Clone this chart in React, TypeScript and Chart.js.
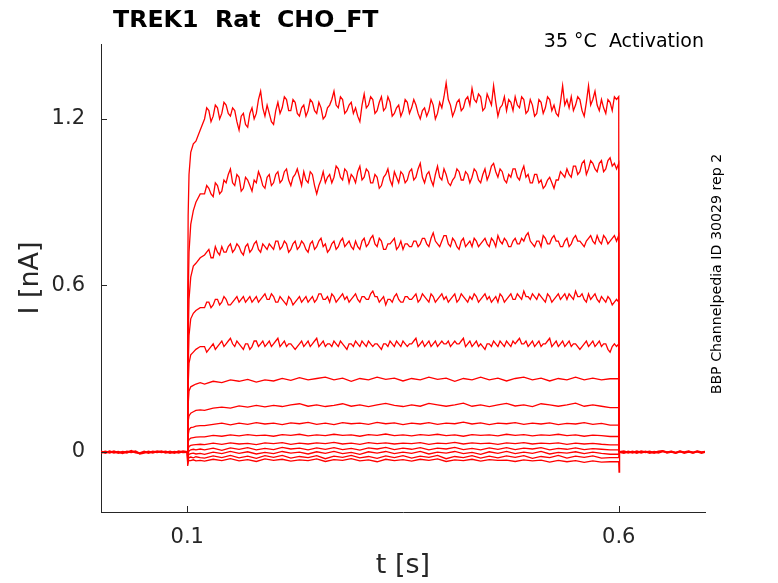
import React, { useEffect, useRef } from 'react';
import { Chart, registerables } from 'chart.js';

Chart.register(...registerables);

const title = 'TREK1  Rat  CHO_FT';
const subtitle = '35 °C  Activation';
const sideNote = 'BBP Channelpedia ID 30029 rep 2';
const xLabel = 't [s]';
const yLabel = 'I [nA]';

const xTicks = [0.1, 0.6];
const yTicks = [0, 0.6, 1.2];

// sample times in seconds
const preTimes = Array.from({ length: 21 }, (_, i) => +(i * 0.005).toFixed(4));
const onsetTimes = [0.1, 0.1005, 0.101, 0.102, 0.104, 0.107, 0.11, 0.115];
const fineTimes = Array.from({ length: 96 }, (_, i) => +(0.12 + i * 0.005).toFixed(4));
const midTimes = Array.from({ length: 96 }, (_, i) => +(0.1225 + i * 0.005).toFixed(4));
const coarseTimes = Array.from({ length: 48 }, (_, i) => +(0.12 + i * 0.01).toFixed(4));
const endTimes = [0.6, 0.6004, 0.601];
const postTimes = Array.from({ length: 21 }, (_, i) => +(0.601 + i * 0.005).toFixed(4));

// holding current before / after the step (nA)
const preA = [0.002, -0.003, 0.003, -0.002, 0.001, -0.004, 0.002, -0.001, 0.003, -0.006, -0.003, 0.002, -0.002, 0.003, -0.001, 0.002, -0.003, 0.001, -0.002, 0.003, 0.0];
const preB = [-0.003, 0.002, -0.002, 0.003, -0.003, 0.001, -0.002, 0.004, -0.002, -0.004, 0.002, -0.003, 0.002, -0.001, 0.003, -0.002, 0.002, -0.003, 0.003, -0.001, 0.0];
const postA = [0.0, 0.003, -0.002, 0.002, -0.003, 0.003, -0.001, 0.002, -0.003, 0.002, 0.004, -0.002, 0.001, -0.003, 0.002, -0.001, 0.003, -0.002, 0.002, -0.003, 0.001];
const postB = [0.0, -0.003, 0.002, -0.002, 0.003, -0.002, 0.002, -0.003, 0.001, -0.002, 0.003, -0.001, 0.002, -0.002, 0.003, -0.003, 0.001, -0.002, 0.003, -0.001, 0.002];

// step currents, largest first (nA)
const onset1 = [0, 0.55, 0.85, 1.0, 1.08, 1.11, 1.12, 1.16];
const trace1 = [
  1.20, 1.23, 1.21, 1.24, 1.22, 1.25, 1.21, 1.23, 1.16, 1.22, 1.17, 1.24,
  1.22, 1.30, 1.21, 1.22, 1.18, 1.26, 1.24, 1.27, 1.23, 1.26, 1.21, 1.25,
  1.23, 1.26, 1.22, 1.24, 1.21, 1.25, 1.30, 1.24, 1.27, 1.23, 1.26, 1.24,
  1.19, 1.29, 1.25, 1.27, 1.23, 1.28, 1.24, 1.26, 1.22, 1.25, 1.23, 1.26,
  1.24, 1.25, 1.20, 1.24, 1.23, 1.25, 1.22, 1.24, 1.33, 1.25, 1.23, 1.27,
  1.24, 1.28, 1.31, 1.26, 1.28, 1.24, 1.27, 1.32, 1.21, 1.25, 1.23, 1.26,
  1.28, 1.24, 1.27, 1.23, 1.25, 1.22, 1.26, 1.24, 1.27, 1.25, 1.21, 1.32,
  1.27, 1.28, 1.25, 1.27, 1.21, 1.32, 1.27, 1.25, 1.27, 1.22, 1.26, 1.28,
];
const mid1 = [
  1.24, 1.19, 1.25, 1.20, 1.26, 1.22, 1.24, 1.19, 1.21, 1.18, 1.22, 1.20,
  1.27, 1.24, 1.25, 1.19, 1.23, 1.22, 1.28, 1.23, 1.27, 1.22, 1.24, 1.21,
  1.27, 1.23, 1.26, 1.20, 1.24, 1.27, 1.25, 1.28, 1.22, 1.25, 1.22, 1.21,
  1.25, 1.24, 1.28, 1.22, 1.26, 1.23, 1.28, 1.21, 1.24, 1.21, 1.27, 1.22,
  1.27, 1.22, 1.23, 1.21, 1.27, 1.20, 1.26, 1.28, 1.27, 1.21, 1.26, 1.23,
  1.27, 1.25, 1.27, 1.29, 1.23, 1.29, 1.25, 1.26, 1.24, 1.28, 1.27, 1.23,
  1.25, 1.28, 1.22, 1.27, 1.21, 1.27, 1.22, 1.28, 1.23, 1.22, 1.26, 1.25,
  1.24, 1.23, 1.28, 1.23, 1.26, 1.25, 1.30, 1.23, 1.24, 1.27, 1.23, 1.27,
];
const onset2 = [0, 0.3, 0.55, 0.72, 0.82, 0.87, 0.9, 0.93];
const trace2 = [
  0.93, 0.95, 0.92, 0.96, 0.94, 0.97, 1.02, 0.96, 0.99, 0.95, 0.98, 0.94,
  0.97, 0.99, 0.95, 1.00, 0.97, 1.01, 0.98, 1.02, 0.96, 1.00, 0.99, 1.01,
  0.97, 1.00, 0.93, 0.98, 0.97, 1.00, 0.99, 1.02, 0.98, 1.01, 1.00, 0.97,
  1.03, 0.99, 1.01, 0.97, 0.99, 0.96, 1.00, 0.98, 1.01, 0.97, 1.00, 0.98,
  1.02, 0.99, 1.04, 0.97, 1.01, 0.96, 1.03, 0.98, 1.00, 0.96, 0.99, 1.01,
  0.98, 1.00, 0.99, 1.01, 0.97, 1.02, 1.00, 1.04, 0.99, 1.01, 0.97, 0.99,
  1.02, 0.98, 1.03, 1.00, 0.97, 1.00, 0.98, 0.96, 0.99, 0.95, 0.98, 1.00,
  1.02, 0.99, 1.03, 1.01, 1.05, 1.02, 1.04, 1.01, 1.05, 1.02, 1.06, 1.04,
];
const mid2 = [
  0.96, 0.93, 0.97, 0.93, 0.98, 1.00, 0.97, 1.00, 0.94, 0.99, 0.96, 0.98,
  1.01, 0.96, 0.99, 0.96, 1.00, 0.97, 1.01, 0.98, 0.99, 1.02, 0.96, 0.98,
  1.01, 0.96, 0.96, 1.01, 0.99, 0.97, 1.03, 0.99, 1.02, 0.97, 0.99, 1.01,
  0.98, 1.02, 0.97, 1.00, 0.95, 0.99, 1.02, 0.96, 0.99, 1.01, 0.97, 1.01,
  0.98, 1.02, 0.99, 1.00, 0.98, 1.00, 0.99, 1.02, 0.97, 0.98, 1.02, 0.98,
  1.01, 0.97, 1.02, 0.98, 1.00, 0.98, 1.03, 1.01, 1.02, 0.98, 1.00, 1.02,
  0.99, 1.01, 0.99, 0.97, 1.00, 0.97, 0.95, 0.98, 0.97, 0.98, 1.01, 0.99,
  1.00, 1.03, 1.00, 1.04, 1.00, 1.05, 1.02, 1.04, 1.01, 1.05, 1.03, 1.02,
];
const onset3 = [0, 0.2, 0.4, 0.55, 0.63, 0.67, 0.68, 0.7];
const trace3 = [
  0.71, 0.73, 0.70, 0.72, 0.74, 0.72, 0.75, 0.73, 0.74, 0.71, 0.75, 0.73,
  0.76, 0.72, 0.74, 0.75, 0.73, 0.76, 0.74, 0.75, 0.73, 0.76, 0.74, 0.75,
  0.72, 0.76, 0.74, 0.77, 0.75, 0.73, 0.76, 0.74, 0.77, 0.75, 0.74, 0.76,
  0.73, 0.77, 0.75, 0.78, 0.74, 0.76, 0.73, 0.75, 0.77, 0.74, 0.73, 0.75,
  0.74, 0.76, 0.75, 0.77, 0.74, 0.79, 0.75, 0.76, 0.78, 0.74, 0.76, 0.73,
  0.77, 0.75, 0.74, 0.76, 0.75, 0.77, 0.74, 0.76, 0.78, 0.75, 0.76, 0.74,
  0.77, 0.75, 0.76, 0.79, 0.75, 0.76, 0.74, 0.77, 0.75, 0.78, 0.76, 0.74,
  0.77, 0.75, 0.78, 0.76, 0.74, 0.77, 0.76, 0.78, 0.75, 0.77, 0.76, 0.78,
];
const mid3 = [
  0.72, 0.70, 0.74, 0.71, 0.72, 0.74, 0.72, 0.75, 0.72, 0.74, 0.72, 0.75,
  0.73, 0.75, 0.73, 0.74, 0.76, 0.73, 0.76, 0.72, 0.75, 0.73, 0.76, 0.73,
  0.75, 0.73, 0.76, 0.74, 0.72, 0.75, 0.73, 0.76, 0.74, 0.76, 0.73, 0.74,
  0.76, 0.74, 0.77, 0.75, 0.77, 0.73, 0.75, 0.76, 0.73, 0.76, 0.75, 0.74,
  0.76, 0.74, 0.77, 0.75, 0.77, 0.76, 0.74, 0.78, 0.75, 0.77, 0.74, 0.76,
  0.74, 0.76, 0.77, 0.74, 0.76, 0.75, 0.77, 0.74, 0.76, 0.77, 0.74, 0.76,
  0.75, 0.77, 0.78, 0.76, 0.74, 0.76, 0.78, 0.75, 0.77, 0.76, 0.74, 0.76,
  0.74, 0.77, 0.76, 0.75, 0.76, 0.78, 0.75, 0.76, 0.78, 0.75, 0.77, 0.76,
];
const onset4 = [0, 0.15, 0.3, 0.42, 0.48, 0.5, 0.51, 0.52];
const trace4 = [
  0.52, 0.54, 0.53, 0.55, 0.54, 0.55, 0.53, 0.55, 0.54, 0.56, 0.55, 0.54,
  0.56, 0.55, 0.57, 0.55, 0.56, 0.54, 0.55, 0.53, 0.55, 0.54, 0.56, 0.55,
  0.54, 0.56, 0.55, 0.57, 0.55, 0.54, 0.56, 0.55, 0.57, 0.56, 0.55, 0.57,
  0.54, 0.56, 0.55, 0.58, 0.56, 0.55, 0.53, 0.55, 0.56, 0.55, 0.54, 0.56,
  0.55, 0.57, 0.55, 0.56, 0.54, 0.56, 0.55, 0.57, 0.56, 0.55, 0.57, 0.55,
  0.56, 0.54, 0.55, 0.56, 0.55, 0.57, 0.56, 0.55, 0.54, 0.56, 0.55, 0.57,
  0.55, 0.56, 0.58, 0.56, 0.57, 0.55, 0.56, 0.54, 0.56, 0.55, 0.57, 0.56,
  0.55, 0.56, 0.58, 0.56, 0.55, 0.57, 0.56, 0.55, 0.56, 0.54, 0.55, 0.54,
];
const mid4 = [
  0.54, 0.52, 0.55, 0.53, 0.56, 0.53, 0.54, 0.56, 0.55, 0.54, 0.56, 0.55,
  0.54, 0.56, 0.55, 0.57, 0.54, 0.56, 0.54, 0.56, 0.53, 0.55, 0.54, 0.56,
  0.55, 0.54, 0.57, 0.55, 0.56, 0.57, 0.54, 0.56, 0.55, 0.54, 0.56, 0.55,
  0.56, 0.55, 0.57, 0.56, 0.54, 0.56, 0.55, 0.54, 0.57, 0.54, 0.56, 0.55,
  0.56, 0.54, 0.57, 0.55, 0.57, 0.54, 0.56, 0.55, 0.54, 0.56, 0.54, 0.57,
  0.55, 0.56, 0.57, 0.54, 0.56, 0.55, 0.54, 0.56, 0.57, 0.54, 0.56, 0.55,
  0.57, 0.55, 0.56, 0.55, 0.56, 0.57, 0.55, 0.57, 0.54, 0.56, 0.55, 0.57,
  0.57, 0.55, 0.56, 0.57, 0.54, 0.55, 0.57, 0.54, 0.55, 0.56, 0.53, 0.55,
];
const onset5 = [0, 0.12, 0.24, 0.32, 0.35, 0.36, 0.37, 0.38];
const trace5 = [
  0.38, 0.37, 0.39, 0.38, 0.40, 0.39, 0.41, 0.38, 0.39, 0.37, 0.39, 0.38,
  0.40, 0.39, 0.38, 0.40, 0.39, 0.41, 0.39, 0.38, 0.39, 0.37, 0.39, 0.38,
  0.40, 0.39, 0.41, 0.39, 0.38, 0.39, 0.40, 0.38, 0.39, 0.37, 0.39, 0.40,
  0.38, 0.39, 0.40, 0.38, 0.39, 0.37, 0.39, 0.40, 0.38, 0.39, 0.40, 0.38,
  0.39, 0.41, 0.39, 0.38, 0.40, 0.39, 0.38, 0.40, 0.39, 0.38, 0.40, 0.39,
  0.41, 0.39, 0.38, 0.40, 0.39, 0.37, 0.39, 0.40, 0.38, 0.39, 0.40, 0.38,
  0.39, 0.41, 0.39, 0.38, 0.40, 0.39, 0.38, 0.39, 0.41, 0.39, 0.38, 0.40,
  0.39, 0.38, 0.39, 0.37, 0.39, 0.38, 0.40, 0.39, 0.38, 0.39, 0.36, 0.39,
];
const mid5 = [
  0.36, 0.38, 0.37, 0.39, 0.38, 0.40, 0.39, 0.40, 0.38, 0.39, 0.37, 0.40,
  0.38, 0.40, 0.39, 0.38, 0.40, 0.38, 0.40, 0.39, 0.38, 0.38, 0.40, 0.39,
  0.38, 0.40, 0.38, 0.40, 0.39, 0.38, 0.39, 0.40, 0.38, 0.39, 0.38, 0.39,
  0.40, 0.38, 0.39, 0.39, 0.38, 0.39, 0.38, 0.39, 0.40, 0.38, 0.39, 0.39,
  0.40, 0.38, 0.40, 0.39, 0.38, 0.40, 0.39, 0.39, 0.40, 0.39, 0.39, 0.40,
  0.38, 0.40, 0.39, 0.38, 0.38, 0.39, 0.38, 0.39, 0.40, 0.38, 0.39, 0.40,
  0.40, 0.39, 0.40, 0.39, 0.38, 0.40, 0.39, 0.40, 0.38, 0.40, 0.39, 0.38,
  0.40, 0.39, 0.38, 0.38, 0.40, 0.39, 0.38, 0.40, 0.39, 0.37, 0.38, 0.38,
];
const onset6 = [0, 0.09, 0.17, 0.22, 0.235, 0.24, 0.245, 0.25];
const trace6 = [
  0.245, 0.255, 0.25, 0.26, 0.255, 0.262, 0.252, 0.26, 0.256, 0.265, 0.258, 0.268,
  0.26, 0.265, 0.27, 0.26, 0.266, 0.255, 0.265, 0.26, 0.27, 0.262, 0.266, 0.256,
  0.265, 0.26, 0.27, 0.262, 0.266, 0.255, 0.265, 0.26, 0.27, 0.26, 0.266, 0.256,
  0.265, 0.27, 0.26, 0.266, 0.256, 0.265, 0.26, 0.27, 0.26, 0.266, 0.26, 0.264,
];
const onset7 = [0, 0.06, 0.11, 0.13, 0.14, 0.145, 0.15, 0.152];
const trace7 = [
  0.15, 0.158, 0.162, 0.158, 0.166, 0.162, 0.168, 0.163, 0.168, 0.164, 0.17, 0.174,
  0.165, 0.17, 0.164, 0.168, 0.174, 0.165, 0.17, 0.164, 0.17, 0.175, 0.168, 0.164,
  0.17, 0.165, 0.175, 0.17, 0.165, 0.17, 0.176, 0.165, 0.17, 0.164, 0.17, 0.175,
  0.166, 0.17, 0.164, 0.174, 0.17, 0.165, 0.17, 0.176, 0.165, 0.17, 0.165, 0.16,
];
const onset8 = [0, 0.03, 0.06, 0.08, 0.088, 0.09, 0.093, 0.095];
const trace8 = [
  0.095, 0.1, 0.104, 0.098, 0.104, 0.1, 0.106, 0.101, 0.104, 0.099, 0.105, 0.102,
  0.107, 0.1, 0.104, 0.099, 0.106, 0.102, 0.104, 0.1, 0.107, 0.102, 0.105, 0.099,
  0.104, 0.101, 0.106, 0.1, 0.104, 0.102, 0.108, 0.101, 0.105, 0.099, 0.104, 0.102,
  0.106, 0.1, 0.104, 0.101, 0.105, 0.099, 0.103, 0.101, 0.106, 0.1, 0.103, 0.097,
];
const onset9 = [0, 0.02, 0.035, 0.045, 0.05, 0.052, 0.054, 0.055];
const trace9 = [
  0.055, 0.06, 0.057, 0.062, 0.058, 0.063, 0.059, 0.061, 0.057, 0.063, 0.06, 0.064,
  0.058, 0.062, 0.059, 0.064, 0.06, 0.062, 0.057, 0.063, 0.06, 0.065, 0.059, 0.062,
  0.058, 0.063, 0.06, 0.064, 0.059, 0.062, 0.057, 0.063, 0.06, 0.062, 0.058, 0.064,
  0.06, 0.063, 0.058, 0.062, 0.06, 0.064, 0.059, 0.062, 0.057, 0.061, 0.059, 0.056,
];
const onset10 = [0, -0.02, 0.01, 0.02, 0.024, 0.026, 0.027, 0.028];
const trace10 = [
  0.027, 0.032, 0.028, 0.033, 0.029, 0.031, 0.027, 0.033, 0.03, 0.034, 0.028, 0.032,
  0.029, 0.033, 0.03, 0.035, 0.029, 0.032, 0.028, 0.034, 0.03, 0.033, 0.029, 0.032,
  0.03, 0.034, 0.028, 0.032, 0.03, 0.035, 0.029, 0.033, 0.03, 0.032, 0.028, 0.033,
  0.03, 0.034, 0.029, 0.032, 0.03, 0.033, 0.028, 0.032, 0.029, 0.031, 0.028, 0.026,
];
const onset11 = [0, -0.03, -0.005, 0.004, 0.008, 0.01, 0.008, 0.011];
const trace11 = [
  0.008, 0.014, 0.006, 0.015, 0.01, 0.016, 0.008, 0.013, 0.009, 0.017, 0.011, 0.014,
  0.008, 0.015, 0.01, 0.016, 0.009, 0.013, 0.007, 0.015, 0.011, 0.017, 0.009, 0.014,
  0.01, 0.016, 0.008, 0.014, 0.011, 0.017, 0.009, 0.013, 0.008, 0.015, 0.01, 0.016,
  0.009, 0.014, 0.011, 0.016, 0.008, 0.013, 0.01, 0.015, 0.009, 0.012, 0.01, 0.008,
];
const onset12 = [0, -0.04, -0.015, -0.008, -0.006, -0.004, -0.007, -0.005];
const trace12 = [
  -0.008, 0.0, -0.006, 0.002, -0.005, 0.001, -0.007, -0.001, -0.006, 0.002, -0.004, 0.0,
  -0.007, 0.001, -0.005, 0.002, -0.006, -0.001, -0.008, 0.001, -0.004, 0.002, -0.006, 0.0,
  -0.005, 0.002, -0.007, 0.0, -0.004, 0.002, -0.006, -0.001, -0.008, 0.001, -0.005, 0.002,
  -0.006, 0.0, -0.005, 0.002, -0.007, -0.001, -0.004, 0.001, -0.006, 0.0, -0.005, -0.008,
];
const onset13 = [0, -0.045, -0.028, -0.02, -0.018, -0.021, -0.017, -0.02];
const trace13 = [
  -0.022, -0.014, -0.02, -0.012, -0.021, -0.015, -0.023, -0.013, -0.019, -0.012, -0.022, -0.016,
  -0.02, -0.013, -0.024, -0.015, -0.019, -0.012, -0.021, -0.016, -0.023, -0.014, -0.02, -0.013,
  -0.022, -0.015, -0.019, -0.012, -0.024, -0.016, -0.02, -0.013, -0.022, -0.015, -0.021, -0.014,
  -0.019, -0.013, -0.023, -0.016, -0.02, -0.012, -0.022, -0.015, -0.019, -0.014, -0.022, -0.02,
];
const onset14 = [0, -0.05, -0.036, -0.03, -0.031, -0.028, -0.032, -0.03];
const trace14 = [
  -0.033, -0.026, -0.031, -0.024, -0.032, -0.027, -0.034, -0.025, -0.03, -0.026, -0.033, -0.028,
  -0.031, -0.025, -0.034, -0.027, -0.03, -0.024, -0.032, -0.028, -0.035, -0.026, -0.031, -0.027,
  -0.033, -0.026, -0.03, -0.025, -0.034, -0.028, -0.031, -0.026, -0.033, -0.027, -0.03, -0.029,
  -0.034, -0.028, -0.032, -0.029, -0.036, -0.03, -0.035, -0.031, -0.037, -0.032, -0.036, -0.035,
];
// tail-current transient just after the step ends (nA)
const offDip = [-0.072, 0];
const offFlat = [0, 0];

const stepTraces = [
  { onset: onset1, values: trace1, mid: mid1, times: fineTimes, off: offFlat },
  { onset: onset2, values: trace2, mid: mid2, times: fineTimes, off: offFlat },
  { onset: onset3, values: trace3, mid: mid3, times: fineTimes, off: offFlat },
  { onset: onset4, values: trace4, mid: mid4, times: fineTimes, off: offFlat },
  { onset: onset5, values: trace5, mid: mid5, times: fineTimes, off: offFlat },
  { onset: onset6, values: trace6, mid: [], times: coarseTimes, off: offFlat },
  { onset: onset7, values: trace7, mid: [], times: coarseTimes, off: offFlat },
  { onset: onset8, values: trace8, mid: [], times: coarseTimes, off: offFlat },
  { onset: onset9, values: trace9, mid: [], times: coarseTimes, off: offFlat },
  { onset: onset10, values: trace10, mid: [], times: coarseTimes, off: offFlat },
  { onset: onset11, values: trace11, mid: [], times: coarseTimes, off: offFlat },
  { onset: onset12, values: trace12, mid: [], times: coarseTimes, off: offFlat },
  { onset: onset13, values: trace13, mid: [], times: coarseTimes, off: offFlat },
  { onset: onset14, values: trace14, mid: [], times: coarseTimes, off: offDip },
];

const RED = '#ff0000';
const AXIS = '#262626';
const FONT = '"DejaVu Sans", sans-serif';

const zip = (times: number[], values: number[]) =>
  values.slice(0, times.length).map((y, i) => ({ x: times[i], y }));

type StepTrace = { onset: number[]; values: number[]; mid: number[]; times: number[]; off: number[] };

const buildTrace = (t: StepTrace) => {
  const last = t.values[t.values.length - 1];
  const body = [...zip(t.times, t.values), ...zip(midTimes, t.mid)].sort((a, b) => a.x - b.x);
  return [...zip(onsetTimes, t.onset), ...body, ...zip(endTimes, [last, ...t.off])];
};

const decorPlugin = {
  id: 'decor',
  afterDraw(chart: any) {
    const { ctx, chartArea, scales } = chart;
    ctx.save();
    ctx.strokeStyle = AXIS;
    ctx.lineWidth = 1;
    ctx.beginPath();
    yTicks.forEach((v) => {
      const y = Math.round(scales.y.getPixelForValue(v)) + 0.5;
      ctx.moveTo(chartArea.left, y);
      ctx.lineTo(chartArea.left + 6, y);
    });
    xTicks.forEach((v) => {
      const x = Math.round(scales.x.getPixelForValue(v)) + 0.5;
      ctx.moveTo(x, chartArea.bottom);
      ctx.lineTo(x, chartArea.bottom - 6);
    });
    ctx.stroke();

    ctx.fillStyle = '#000';
    ctx.textBaseline = 'alphabetic';
    ctx.font = `bold 23.7px ${FONT}`;
    ctx.textAlign = 'left';
    ctx.fillText(title, 113, 27);
    ctx.font = `19px ${FONT}`;
    ctx.textAlign = 'right';
    ctx.fillText(subtitle, 704, 47);

    ctx.translate(721, 274);
    ctx.rotate(-Math.PI / 2);
    ctx.font = `14.2px ${FONT}`;
    ctx.textAlign = 'center';
    ctx.fillText(sideNote, 0, 0);
    ctx.restore();
  },
};

const App: React.FC = () => {
  const chartRef = useRef<HTMLCanvasElement>(null);

  useEffect(() => {
    if (!chartRef.current) return;
    const line = { borderColor: RED, borderWidth: 1.3, pointRadius: 0, fill: false, tension: 0 };
    const datasets = [
      { ...line, borderWidth: 2, data: zip(preTimes, preA) },
      { ...line, borderWidth: 2, data: zip(preTimes, preB) },
      { ...line, borderWidth: 2, data: zip(postTimes, postA) },
      { ...line, borderWidth: 2, data: zip(postTimes, postB) },
      ...stepTraces.map((t) => ({ ...line, data: buildTrace(t) })),
    ];

    const chart = new Chart(chartRef.current, {
      type: 'line',
      data: { datasets },
      options: {
        animation: false,
        responsive: false,
        parsing: false,
        layout: { padding: { top: 44, right: 73, left: 0, bottom: 0 } },
        plugins: { legend: { display: false }, tooltip: { enabled: false } },
        scales: {
          x: {
            type: 'linear',
            min: 0,
            max: 0.7,
            afterFit: (s: any) => { s.height = 71; },
            afterBuildTicks: (s: any) => { s.ticks = xTicks.map((value) => ({ value })); },
            grid: { display: false, drawTicks: false },
            border: { display: true, color: AXIS, width: 1 },
            ticks: {
              color: AXIS,
              padding: 13,
              font: { family: FONT, size: 21 },
              maxRotation: 0,
              callback: (v: any) => String(v),
            },
            title: {
              display: true,
              text: xLabel,
              color: AXIS,
              font: { family: FONT, size: 27 },
              padding: { top: 0, bottom: 1 },
            },
          },
          y: {
            type: 'linear',
            min: -0.216,
            max: 1.47,
            afterFit: (s: any) => { s.width = 101; },
            afterBuildTicks: (s: any) => { s.ticks = yTicks.map((value) => ({ value })); },
            grid: { display: false, drawTicks: false },
            border: { display: true, color: AXIS, width: 1 },
            ticks: {
              color: AXIS,
              padding: 16,
              font: { family: FONT, size: 21 },
              callback: (v: any) => String(v),
            },
            title: {
              display: true,
              text: yLabel,
              color: AXIS,
              font: { family: FONT, size: 27 },
              padding: { top: 15, bottom: 0 },
            },
          },
        },
      },
      plugins: [decorPlugin],
    });
    return () => {
      chart.destroy();
    };
  }, []);

  return (
    <div style={{ position: 'fixed', left: 0, top: 0, width: 778, height: 583, background: '#fff' }}>
      <canvas ref={chartRef} width={778} height={583} />
    </div>
  );
};

export default App;
